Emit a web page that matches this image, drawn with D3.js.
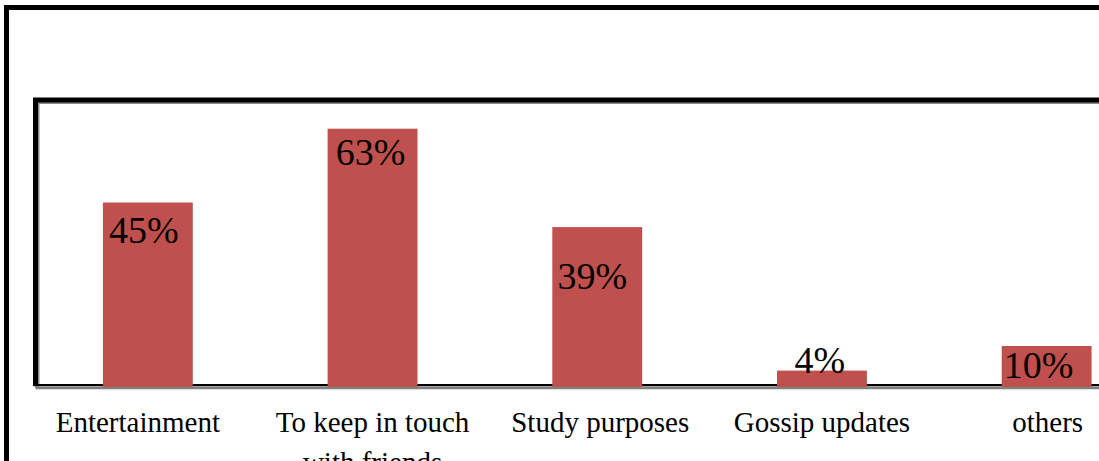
<!DOCTYPE html>
<html>
<head>
<meta charset="utf-8">
<script src="https://cdn.jsdelivr.net/npm/d3@7"></script>
<style>
  html, body { margin: 0; padding: 0; background: #fff; }
  svg { display: block; }
  text { font-family: "Liberation Serif", "Times New Roman", serif; fill: #000; }
</style>
</head>
<body>
<svg id="chart" width="1099" height="461"></svg>
<script>
// Reasons for using social networking sites (share of respondents, %)
const categories = ["Entertainment", "To keep in touch with friends", "Study purposes", "Gossip updates", "others"];
const shares = [45, 63, 39, 4, 10];
const valueLabels = ["45%", "63%", "39%", "4%", "10%"];
const axisMax = 70;

const svg = d3.select("#chart");

// plot area geometry (the chart continues past the right/bottom edge of the page)
const plotLeft = 35.5, plotTop = 100, baseY = 387, plotRight = 1159;

const x = d3.scaleBand()
  .domain(categories)
  .range([plotLeft, plotRight])
  .paddingInner(0.6)
  .paddingOuter(0.3);

const y = d3.scaleLinear()
  .domain([0, axisMax])
  .range([baseY, plotTop]);

// outer chart frame
svg.append("rect")
  .attr("x", 6.5).attr("y", 7.5)
  .attr("width", 1200).attr("height", 600)
  .attr("fill", "none")
  .attr("stroke", "#000")
  .attr("stroke-width", 5);

// plot area frame: gray shadow then black edge
const framePath = d3.path();
framePath.moveTo(plotLeft, baseY - 1);
framePath.lineTo(plotLeft, plotTop);
framePath.lineTo(1200, plotTop);
svg.append("path")
  .attr("d", framePath.toString())
  .attr("transform", "translate(1.5,1.5)")
  .attr("fill", "none").attr("stroke", "#8a8a8a").attr("stroke-width", 5);
svg.append("path")
  .attr("d", framePath.toString())
  .attr("fill", "none").attr("stroke", "#000").attr("stroke-width", 5)
  .attr("stroke-linejoin", "miter");

// category axis line with its shadow
svg.append("line")
  .attr("x1", plotLeft).attr("x2", 1200)
  .attr("y1", baseY + 0.8).attr("y2", baseY + 0.8)
  .attr("stroke", "#808080").attr("stroke-width", 3);
svg.append("line")
  .attr("x1", plotLeft - 2).attr("x2", 1200)
  .attr("y1", baseY - 2).attr("y2", baseY - 2)
  .attr("stroke", "#000").attr("stroke-width", 2);

// bars
svg.append("g")
  .selectAll("rect")
  .data(categories)
  .join("rect")
  .attr("x", d => x(d))
  .attr("width", x.bandwidth())
  .attr("y", (d, i) => y(shares[i]))
  .attr("height", (d, i) => y(0) - y(shares[i]))
  .attr("fill", "#C0504D");

// data labels, nudged vertically inside each bar
const labelDy = [40, 36, 62, 2, 32];
const labelDx = [-4, -2, -5, -2, -8];
svg.append("g")
  .selectAll("text")
  .data(categories)
  .join("text")
  .attr("x", (d, i) => x(d) + x.bandwidth() / 2 + labelDx[i])
  .attr("y", (d, i) => y(shares[i]) + labelDy[i])
  .attr("text-anchor", "middle")
  .attr("font-size", 38)
  .text((d, i) => valueLabels[i]);

// category labels (wrapped to two lines where long)
const wrap = {"To keep in touch with friends": ["To keep in touch", "with friends"]};
const catDx = [-10, 0, 3, 0, 1];
const catG = svg.append("g");
categories.forEach((c, i) => {
  const lines = wrap[c] || [c];
  const t = catG.append("text")
    .attr("text-anchor", "middle")
    .attr("font-size", 29)
    .attr("x", x(c) + x.bandwidth() / 2 + catDx[i])
    .attr("y", 432);
  lines.forEach((ln, j) => {
    t.append("tspan")
      .attr("x", x(c) + x.bandwidth() / 2 + catDx[i])
      .attr("dy", j === 0 ? 0 : 40)
      .text(ln);
  });
});
</script>
</body>
</html>
